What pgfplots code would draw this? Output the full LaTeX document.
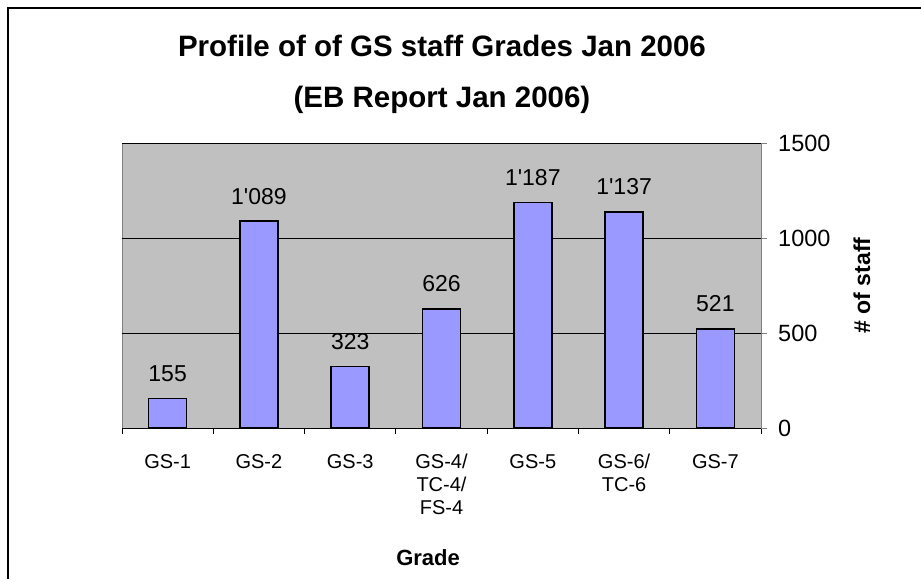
\documentclass[border=0pt]{standalone}
\usepackage{fontspec}
\setmainfont{Liberation Sans}
\usepackage{pgfplots}
\pgfplotsset{compat=1.18}
\definecolor{plotgray}{HTML}{C0C0C0}
\definecolor{barblue}{HTML}{9999FF}
\definecolor{axgray}{HTML}{808080}
\begin{document}
\begin{tikzpicture}
\begin{axis}[
  at={(122pt,151pt)}, anchor=south west,
  scale only axis, width=639pt, height=285pt,
  ybar, bar width=38pt,
  xmin=-0.5, xmax=6.5, ymin=0, ymax=1500,
  axis x line*=bottom, axis y line*=right,
  axis background/.style={fill=plotgray, draw=axgray, line width=0.8pt},
  x axis line style={black, line width=0.8pt, -},
  y axis line style={axgray, line width=1pt, -},
  xtick={0,...,6},
  xticklabels={GS-1, GS-2, GS-3, {GS-4/\\TC-4/\\FS-4}, GS-5, {GS-6/\\TC-6}, GS-7},
  minor xtick={-0.5,0.5,...,6.5},
  major x tick style={draw=none},
  minor x tick style={black, line width=0.8pt},
  minor tick length=6pt,
  ytick={0,500,1000,1500},
  major y tick style={axgray, line width=1pt},
  major tick length=6pt,
  tick align=outside,
  ymajorgrids, grid style={black, line width=0.6pt},
  xticklabel style={font=\fontsize{20}{23}\selectfont, align=center, anchor=north, inner sep=0pt, yshift=-20pt},
  yticklabel style={font=\fontsize{23.5}{27}\selectfont, anchor=west, inner sep=0pt, xshift=11pt},
  /pgf/number format/assume math mode=true,
  /pgf/number format/set thousands separator={},
  xlabel={Grade},
  xlabel style={font=\bfseries\fontsize{22}{26}\selectfont, at={(axis description cs:0.479,-0.455)}, anchor=center},
  ylabel={\# of staff},
  ylabel style={font=\bfseries\fontsize{23}{27}\selectfont, at={(axis description cs:1.158,0.5)}, anchor=center, rotate=0},
  point meta=explicit symbolic,
  nodes near coords,
  every node near coord/.append style={font=\fontsize{23}{27}\selectfont, inner sep=0pt, anchor=south, yshift=16pt},
  clip=false,
]
\addplot[fill=barblue, draw=black, line width=1.7pt] coordinates {
  (0,155) [155]
  (1,1089) [1\textquotesingle 089]
  (2,323) [323]
  (3,626) [626]
  (4,1187) [1\textquotesingle 187]
  (5,1137) [1\textquotesingle 137]
  (6,521) [521]
};
\end{axis}
\node[font=\bfseries\fontsize{29.5}{34}\selectfont, anchor=base] at (442pt,522pt) {Profile of of GS staff Grades Jan 2006};
\node[font=\bfseries\fontsize{29.5}{34}\selectfont, anchor=base] at (442pt,471pt) {(EB Report Jan 2006)};
\draw[line width=1.2pt, black] (8pt,0pt) -- (8pt,571pt) -- (921pt,571pt);
\pgfresetboundingbox
\useasboundingbox (0,0) rectangle (921pt,579pt);
\end{tikzpicture}
\end{document}
